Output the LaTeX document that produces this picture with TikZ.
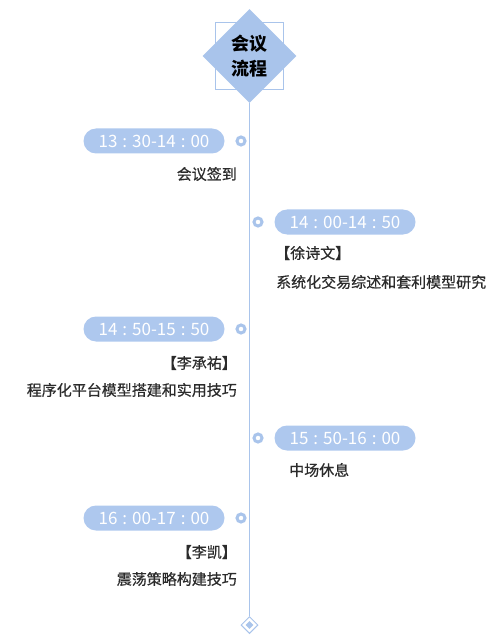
\documentclass[tikz,border=0pt]{standalone}
\usepackage{fontspec}
\setmainfont{Noto Sans CJK SC}
\newfontfamily\labelfont[FakeBold=0.6]{Noto Sans CJK SC}
\usetikzlibrary{shapes.geometric}
\definecolor{lineblue}{HTML}{A9C4EB}
\definecolor{pillblue}{HTML}{AEC8EE}
\definecolor{textgray}{HTML}{2B2B2B}
\newcommand\tcolon{\hspace{5pt}:\hspace{5pt}}

\begin{document}
\begin{tikzpicture} [
  y=-1pt,
  x=1pt,
  time/.style={fill=pillblue, text=white, rounded corners=12.5pt, minimum width=141pt, minimum height=25pt, inner sep=0pt, font=\fontsize{17}{17}\selectfont},
  dot/.style={circle, draw=lineblue, line width=3pt, fill=white, minimum size=8pt, inner sep=0pt},
  label/.style={text=textgray, inner sep=0pt, font=\fontsize{15}{15}\labelfont}
  ]
  \useasboundingbox (0,0) rectangle (500,644);

  \node(frame)[rectangle, draw=lineblue, line width=0.6pt, minimum width=68pt, minimum height=67pt, at={(249.5,56)}]{};
  \node(title)[diamond, fill=lineblue, minimum width=94pt, minimum height=94pt, inner sep=0pt, align=center, font=\fontsize{18}{25}\selectfont\bfseries, at={(249.5,56)}]{会议\\流程};
  \node(end)[diamond, draw=lineblue, line width=1pt, fill=white, minimum size=17pt, inner sep=0pt, at={(249.5,625)}]{};
  \node(end-core)[diamond, fill=lineblue, minimum size=8pt, inner sep=0pt, at={(249.5,625)}]{};
  \draw[lineblue, line width=1pt] (title.south) -- (end.north);

  \node(dot1)[dot, at={(241,141)}]{};
  \node(time1)[time, at={(154,141)}]{13\tcolon30-14\tcolon00};
  \node(topic1)[label, anchor=east, at={(237,174)}]{会议签到};

  \node(dot2)[dot, at={(258,222)}]{};
  \node(time2)[time, at={(345,222)}]{14\tcolon00-14\tcolon50};
  \node(name2)[label, anchor=west, at={(275,253)}]{【徐诗文】};
  \node(topic2)[label, anchor=west, at={(276,282)}]{系统化交易综述和套利模型研究};

  \node(dot3)[dot, at={(241,329)}]{};
  \node(time3)[time, at={(154,329)}]{14\tcolon50-15\tcolon50};
  \node(name3)[label, anchor=east, at={(237,363)}]{【李承祐】};
  \node(topic3)[label, anchor=east, at={(237,390)}]{程序化平台模型搭建和实用技巧};

  \node(dot4)[dot, at={(258,438)}]{};
  \node(time4)[time, at={(345,438)}]{15\tcolon50-16\tcolon00};
  \node(topic4)[label, anchor=west, at={(289,470)}]{中场休息};

  \node(dot5)[dot, at={(241,518)}]{};
  \node(time5)[time, at={(154,518)}]{16\tcolon00-17\tcolon00};
  \node(name5)[label, anchor=east, at={(237,552)}]{【李凯】};
  \node(topic5)[label, anchor=east, at={(237,579)}]{震荡策略构建技巧};
\end{tikzpicture}
\end{document}
